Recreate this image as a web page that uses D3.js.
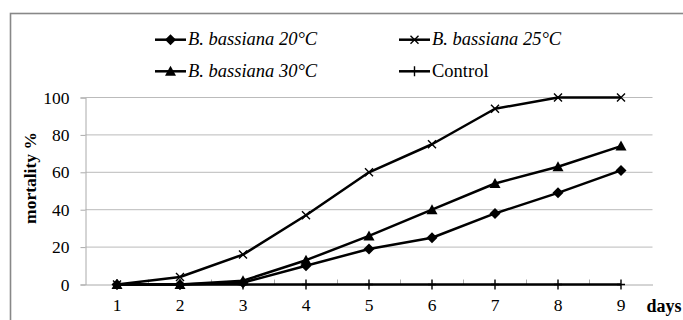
<!DOCTYPE html>
<html><head><meta charset="utf-8">
<script src="https://cdn.jsdelivr.net/npm/d3@7"></script>
<style>body{margin:0;background:#fff}svg{display:block}svg text{font-family:"Liberation Serif","Times New Roman",Times,serif}</style>
</head><body>
<svg id="c" width="683" height="320"></svg>
<script>
const days = ["1","2","3","4","5","6","7","8","9"];
const s20 = [0,0,1,10,19,25,38,49,61];
const s25 = [0,4,16,37,60,75,94,100,100];
const s30 = [0,0,2,13,26,40,54,63,74];
const control = [0,0,0,0,0,0,0,0,0];
const seriesNames = ["B. bassiana 20°C","B. bassiana 25°C","B. bassiana 30°C","Control"];
const yTicks = [0,20,40,60,80,100];

const series = [
  {name: seriesNames[0], values: s20, marker: "diamond", italic: true},
  {name: seriesNames[1], values: s25, marker: "x", italic: true},
  {name: seriesNames[2], values: s30, marker: "triangle", italic: true},
  {name: seriesNames[3], values: control, marker: "plus", italic: false}
];

const svg = d3.select("#c");
const fs = 17.5;

// outer border
svg.append("rect").attr("x",10.5).attr("y",13.5).attr("width",700).attr("height",340)
  .attr("fill","none").attr("stroke","#888").attr("stroke-width",1.6);

const pLeft = 85.5, pRight = 652.5, pTop = 97.5, pBottom = 284.5;
const x = d3.scaleBand().domain(days).range([pLeft,pRight]);
const y = d3.scaleLinear().domain([0,100]).range([pBottom,pTop]);
const cx = d => x(d) + x.bandwidth()/2;

// gridlines
svg.append("g").selectAll("line").data(yTicks.filter(t=>t>0)).join("line")
  .attr("x1",pLeft).attr("x2",pRight).attr("y1",d=>y(d)).attr("y2",d=>y(d))
  .attr("stroke","#bbb").attr("stroke-width",1);

// y axis
const yAxis = svg.append("g").attr("transform",`translate(${pLeft},0)`)
  .call(d3.axisLeft(y).tickValues(yTicks).tickSize(5).tickPadding(11));
yAxis.attr("font-family",null);
yAxis.select(".domain").attr("stroke","#aaa");
yAxis.selectAll(".tick line").attr("stroke","#aaa");
yAxis.selectAll("text").attr("font-size",fs).attr("fill","#000");

// x axis
const xAxis = svg.append("g").attr("transform",`translate(0,${pBottom})`)
  .call(d3.axisBottom(x).tickSize(0).tickPadding(14));
xAxis.attr("font-family",null);
xAxis.select(".domain").attr("stroke","#aaa");
xAxis.selectAll("text").attr("font-size",fs).attr("fill","#000");
// boundary ticks (inside)
svg.append("g").selectAll("line").data(days.slice(1)).join("line")
  .attr("x1",d=>x(d)).attr("x2",d=>x(d)).attr("y1",pBottom).attr("y2",pBottom-5)
  .attr("stroke","#aaa");

// axis titles
svg.append("text").attr("x",664).attr("y",312).attr("text-anchor","middle")
  .attr("font-size",18).attr("font-weight","bold").text("days");
svg.append("text").attr("transform","translate(36,178) rotate(-90)").attr("text-anchor","middle")
  .attr("font-size",fs).attr("font-weight","bold").text("mortality %");

function drawMarker(g, type, px, py) {
  if (type === "diamond") {
    g.append("path").attr("d",`M${px},${py-5.5}L${px+5.5},${py}L${px},${py+5.5}L${px-5.5},${py}Z`).attr("fill","#000");
  } else if (type === "triangle") {
    g.append("path").attr("d",`M${px},${py-5.5}L${px+5.5},${py+4.5}L${px-5.5},${py+4.5}Z`).attr("fill","#000");
  } else if (type === "x") {
    g.append("path").attr("d",`M${px-4},${py-4}L${px+4},${py+4}M${px-4},${py+4}L${px+4},${py-4}`)
      .attr("stroke","#000").attr("stroke-width",1.4);
  } else if (type === "plus") {
    g.append("path").attr("d",`M${px},${py-5}L${px},${py+5}M${px-4},${py}L${px+4},${py}`)
      .attr("stroke","#000").attr("stroke-width",1.4);
  }
}

const line = d3.line().x((v,i)=>cx(days[i])).y(v=>y(v));
[3,0,2,1].forEach(k => {
  const s = series[k];
  const g = svg.append("g");
  g.append("path").attr("d",line(s.values)).attr("fill","none").attr("stroke","#000")
    .attr("stroke-width",2.5).attr("stroke-linejoin","round");
  s.values.forEach((v,i)=>drawMarker(g, s.marker, cx(days[i]), y(v)));
});

// legend
const legendPos = [[155,39.7],[399,39.7],[155,71.3],[399,71.3]];
series.forEach((s,i)=>{
  const [lx,ly] = legendPos[i];
  const g = svg.append("g");
  g.append("line").attr("x1",lx).attr("x2",lx+31).attr("y1",ly).attr("y2",ly)
    .attr("stroke","#000").attr("stroke-width",2.5);
  drawMarker(g, s.marker, lx+15.5, ly);
  g.append("text").attr("x",lx+33).attr("y",ly+5.5).attr("font-size",18.5)
    .attr("font-style", s.italic ? "italic" : "normal").text(s.name);
});
</script>
</body></html>
